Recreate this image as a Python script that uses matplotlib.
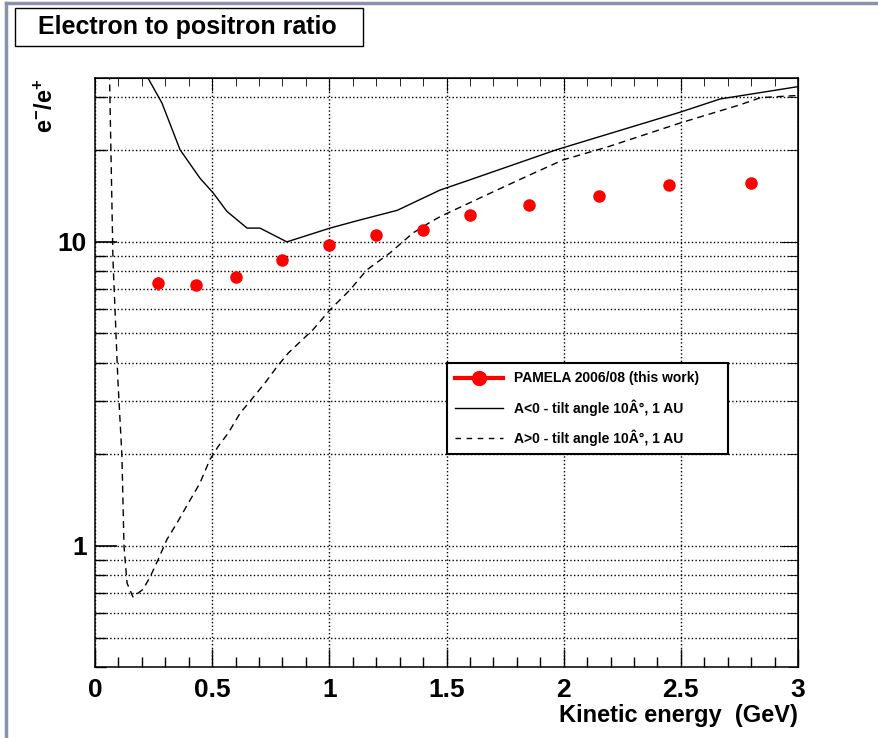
import matplotlib
matplotlib.use('Agg')
import matplotlib.pyplot as plt
from matplotlib.lines import Line2D
from matplotlib.patches import Rectangle
from matplotlib.ticker import MultipleLocator, FuncFormatter, NullFormatter

plt.rcParams['font.family'] = ['Liberation Sans Narrow', 'Liberation Sans', 'DejaVu Sans']
plt.rcParams['font.weight'] = 'bold'
plt.rcParams['mathtext.default'] = 'regular'

# PAMELA 2006/08 points
pamela_e = [0.27, 0.43, 0.60, 0.80, 1.00, 1.20, 1.40, 1.60, 1.85, 2.15, 2.45, 2.80]
pamela_ratio = [7.3, 7.2, 7.65, 8.7, 9.75, 10.5, 10.9, 12.3, 13.2, 14.2, 15.4, 15.6]
pamela_err = [0.35, 0.2, 0.2, 0.2, 0.25, 0.25, 0.25, 0.3, 0.3, 0.35, 0.35, 0.4]

# model A<0, tilt angle 10 deg
neg_e = [0.226, 0.286, 0.363, 0.448, 0.504, 0.563, 0.649, 0.704, 0.819, 1.003,
         1.13, 1.29, 1.472, 1.6, 1.97, 2.497, 2.667, 3.0]
neg_ratio = [34.6, 28.6, 20.1, 16.2, 14.5, 12.6, 11.1, 11.1, 10.0, 11.1,
             11.8, 12.7, 14.8, 16.0, 20.1, 26.7, 29.5, 32.4]

# model A>0, tilt angle 10 deg
pos_e = [0.062, 0.077, 0.098, 0.115, 0.124, 0.137, 0.162, 0.205, 0.235, 0.269,
         0.307, 0.35, 0.393, 0.448, 0.49, 0.525, 0.57, 0.62, 0.66, 0.726,
         0.776, 0.825, 0.875, 0.93, 1.003, 1.088, 1.16, 1.259, 1.357, 1.43,
         1.472, 1.643, 1.84, 1.997, 2.185, 2.497, 2.75, 2.84, 3.0]
pos_ratio = [36.0, 8.7, 3.5, 1.99, 1.0, 0.755, 0.68, 0.72, 0.79, 0.90,
             1.05, 1.19, 1.36, 1.61, 1.92, 2.12, 2.36, 2.74, 2.98, 3.44,
             3.88, 4.31, 4.69, 5.14, 5.98, 6.95, 8.09, 9.2, 10.7, 11.6,
             12.1, 13.95, 16.4, 18.6, 20.5, 24.6, 28.2, 29.8, 30.3]

labels = ['PAMELA 2006/08 (this work)',
          'A<0 - tilt angle 10Â°, 1 AU',
          'A>0 - tilt angle 10Â°, 1 AU']

fig = plt.figure(figsize=(8.79, 7.38), dpi=100)
ax = fig.add_axes([0.108, 0.0962, 0.800, 0.7982])

ax.plot(neg_e, neg_ratio, color='k', lw=1.0)
ax.plot(pos_e, pos_ratio, color='k', lw=1.0, ls=(0, (5, 3.5)))
ax.errorbar(pamela_e, pamela_ratio, yerr=pamela_err, fmt='o', color='red',
             ms=8, elinewidth=2, capsize=0, zorder=5)

ax.set_yscale('log')
ax.set_xlim(0, 3)
ax.set_ylim(0.4, 34.6)

ax.xaxis.set_major_locator(MultipleLocator(0.5))
ax.xaxis.set_minor_locator(MultipleLocator(0.1))
ax.xaxis.set_major_formatter(FuncFormatter(lambda v, p: f'{v:g}'))
ax.yaxis.set_major_formatter(FuncFormatter(lambda v, p: f'{v:g}'))
ax.yaxis.set_minor_formatter(NullFormatter())

ax.grid(axis='y', which='both', ls=':', color='k', lw=1)
ax.grid(axis='x', which='major', ls=':', color='k', lw=1)

ax.tick_params(axis='x', which='major', direction='in', length=13, width=1, labelsize=19, pad=8)
ax.tick_params(axis='x', which='minor', direction='in', length=7, width=1)
ax.tick_params(axis='y', which='major', direction='in', length=16, width=1.2, labelsize=19, pad=6)
ax.tick_params(axis='y', which='minor', direction='in', length=8, width=1)
for s in ax.spines.values():
    s.set_linewidth(1.1)

# shorter ticks on the top and right sides
top = ax.secondary_xaxis('top')
top.xaxis.set_major_locator(MultipleLocator(0.5))
top.xaxis.set_minor_locator(MultipleLocator(0.1))
top.tick_params(which='major', direction='in', length=9, labeltop=False)
top.tick_params(which='minor', direction='in', length=6)
right = ax.secondary_yaxis('right')
right.tick_params(which='major', direction='in', length=12, labelright=False)
right.tick_params(which='minor', direction='in', length=7, labelright=False)
right.yaxis.set_minor_formatter(NullFormatter())

handles = [Line2D([], [], color='red', lw=3, marker='o', ms=10),
           Line2D([], [], color='k', lw=1),
           Line2D([], [], color='k', lw=1, ls=(0, (4, 4)))]
leg = ax.legend(handles, labels, loc='upper left', mode='expand',
                bbox_to_anchor=(0.5007, 0.3616, 0.3998, 0.1544),
                borderaxespad=0, fontsize=10, handlelength=3.4,
                labelspacing=1.0, fancybox=False, framealpha=1,
                edgecolor='k', borderpad=0.6)
leg.get_frame().set_linewidth(1.5)

# title box
fig.patches.append(Rectangle((0.01706, 0.9377), 0.3959, 0.0515, transform=fig.transFigure,
                             facecolor='white', edgecolor='k', lw=1))
fig.text(0.0432, 0.9634, 'Electron to positron ratio', fontsize=18, va='center', ha='left')

fig.text(0.052, 0.894, r'e$^{-}$/e$^{+}$', fontsize=17, rotation=90, ha='center', va='top')
fig.text(0.908, 0.031, 'Kinetic energy  (GeV)', fontsize=17, ha='right', va='center')

# outer canvas border
fig.lines.append(Line2D([0.0068, 0.0068], [0, 0.996], transform=fig.transFigure,
                        color='#8a91ad', lw=2.5))
fig.lines.append(Line2D([0.0068, 1], [0.996, 0.996], transform=fig.transFigure,
                        color='#8a91ad', lw=2.5))

fig.savefig('out.png', dpi=100)
